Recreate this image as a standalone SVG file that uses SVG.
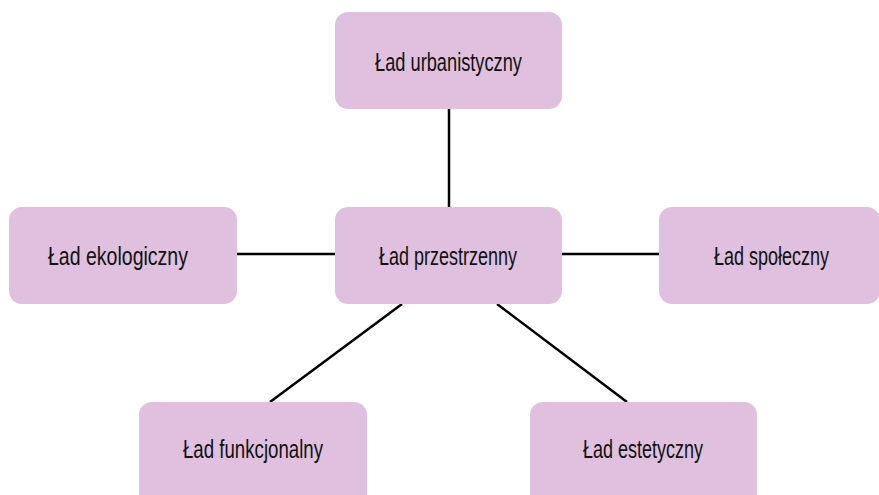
<svg xmlns="http://www.w3.org/2000/svg" width="879" height="495" viewBox="0 0 879 495">
<style>
.box{fill:#dfc1df;}
.lbl{font-family:"Liberation Sans",Arial,sans-serif;font-size:25px;fill:#111;text-anchor:middle;}
.con{stroke:#000;stroke-width:2.5;fill:none;}
</style>
<rect width="879" height="495" fill="#fff"/>
<g id="connectors">
<line class="con" x1="449" y1="108" x2="449" y2="208"/>
<line class="con" x1="236" y1="254" x2="336" y2="254"/>
<line class="con" x1="561" y1="254" x2="660" y2="254"/>
<line class="con" x1="402" y1="304" x2="270" y2="402"/>
<line class="con" x1="497" y1="304" x2="627" y2="402"/>
</g>
<g id="n-urbanistyczny">
<rect class="box" x="335" y="12" width="227" height="97" rx="13"/>
<text class="lbl" x="448.5" y="71" textLength="147" lengthAdjust="spacingAndGlyphs">Ład urbanistyczny</text>
</g>
<g id="n-ekologiczny">
<rect class="box" x="9" y="207" width="228" height="97" rx="13"/>
<text class="lbl" x="118" y="265" textLength="140" lengthAdjust="spacingAndGlyphs">Ład ekologiczny</text>
</g>
<g id="n-przestrzenny">
<rect class="box" x="335" y="207" width="227" height="97" rx="13"/>
<text class="lbl" x="448" y="265" textLength="138" lengthAdjust="spacingAndGlyphs">Ład przestrzenny</text>
</g>
<g id="n-spoleczny">
<rect class="box" x="659" y="207" width="221" height="97" rx="13"/>
<text class="lbl" x="771.5" y="265" textLength="115" lengthAdjust="spacingAndGlyphs">Ład społeczny</text>
</g>
<g id="n-funkcjonalny">
<rect class="box" x="139" y="402" width="228" height="106" rx="13"/>
<text class="lbl" x="253" y="458" textLength="140" lengthAdjust="spacingAndGlyphs">Ład funkcjonalny</text>
</g>
<g id="n-estetyczny">
<rect class="box" x="530" y="402" width="227" height="106" rx="13"/>
<text class="lbl" x="643" y="458" textLength="120" lengthAdjust="spacingAndGlyphs">Ład estetyczny</text>
</g>
</svg>
